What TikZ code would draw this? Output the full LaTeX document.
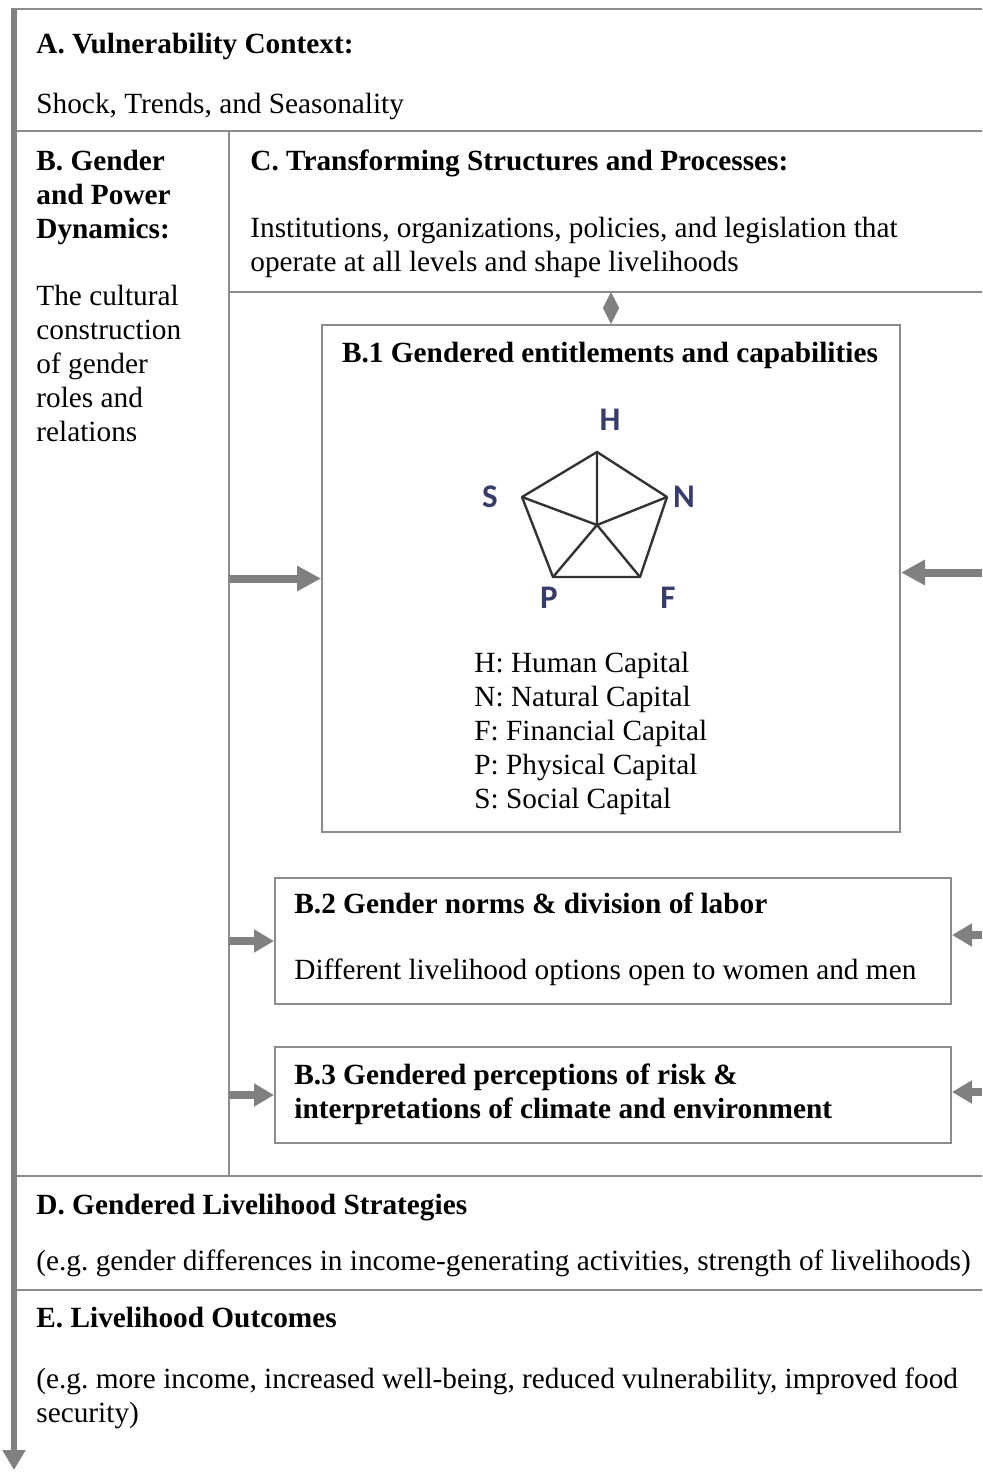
\documentclass[tikz,border=0pt]{standalone}
\usepackage{fontspec}
\setmainfont{Liberation Serif}
\newfontfamily\capfont{Carlito}
\usetikzlibrary{arrows.meta, positioning, calc}
\definecolor{linegray}{HTML}{8C8C8C}
\definecolor{arrgray}{HTML}{808080}
\definecolor{edgedark}{HTML}{333333}
\definecolor{capblue}{HTML}{383C6A}
\frenchspacing
\tikzset{
  txt/.style={inner sep=0pt, anchor=base west, align=left, font=\fontsize{14.65}{17}\selectfont},
  ttl/.style={txt, font=\fontsize{14.65}{17}\selectfont\bfseries},
  rule/.style={draw=linegray, line width=1pt},
  capbox/.style={rectangle, draw=linegray, line width=1pt, inner sep=0pt},
  bigarr/.style={-{Triangle[length=12pt, width=12pt]}, draw=arrgray, line width=4pt},
  smarr/.style={-{Triangle[length=10pt, width=11pt]}, draw=arrgray, line width=4pt},
  dblarr/.style={{Triangle[length=8pt, width=8pt]}-{Triangle[length=8pt, width=8pt]}, draw=arrgray, line width=0.5pt},
  flowarr/.style={-{Triangle[length=10pt, width=11pt]}, draw=arrgray, line width=3pt},
  pent/.style={draw=edgedark, line width=1.2pt},
  caplbl/.style={font=\capfont\fontsize{16.5}{18}\selectfont\bfseries, text=capblue, inner sep=0pt},
}

\begin{document}
\begin{tikzpicture}[x=0.5pt, y=-0.5pt]
  \useasboundingbox (0,0) rectangle (982,1472);

  % frame and panel rules
  \coordinate (topl) at (11,9);
  \coordinate (topr) at (982,9);
  \coordinate (flowtop) at (14,9);
  \coordinate (flowend) at (14,1470);
  \coordinate (ab) at (14,131);
  \coordinate (abr) at (982,131);
  \coordinate (bcl) at (229,131);
  \coordinate (bcb) at (229,1176);
  \coordinate (cl) at (229,292);
  \coordinate (cr) at (982,292);
  \coordinate (dl) at (14,1176);
  \coordinate (dr) at (982,1176);
  \coordinate (el) at (14,1290);
  \coordinate (er) at (982,1290);
  \draw[rule] (topl) -- (topr);
  \draw[rule] (ab) -- (abr);
  \draw[rule] (bcl) -- (bcb);
  \draw[rule] (cl) -- (cr);
  \draw[rule] (dl) -- (dr);
  \draw[rule] (el) -- (er);
  \draw[flowarr] (flowtop) -- (flowend);

  % panel texts (multi-line nodes sit on their last baseline)
  \node[ttl] (atitle) at (36,53) {A. Vulnerability Context:};
  \node[txt] (atext) at (36,113) {Shock, Trends, and Seasonality};
  \node[ttl] (btitle) at (36,238) {B. Gender\\and Power\\Dynamics:};
  \node[txt] (btext) at (36,441) {The cultural\\construction\\of gender\\roles and\\relations};
  \node[ttl] (ctitle) at (250,170) {C. Transforming Structures and Processes:};
  \node[txt] (ctext) at (250,271) {Institutions, organizations, policies, and legislation that\\operate at all levels and shape livelihoods};
  \node[ttl] (dtitle) at (36,1214) {D. Gendered Livelihood Strategies};
  \node[txt] (dtext) at (36,1270) {(e.g. gender differences in income-generating activities, strength of livelihoods)};
  \node[ttl] (etitle) at (36,1327) {E. Livelihood Outcomes};
  \node[txt] (etext) at (36,1422) {(e.g. more income, increased well-being, reduced vulnerability, improved food\\security)};

  % B.1 box
  \node[capbox, anchor=north west, minimum width=289pt, minimum height=253.5pt] (b1) at (321,324) {};
  \node[ttl, anchor=base] (b1title) at (610,362) {B.1 Gendered entitlements and capabilities};
  \node[txt] (b1legend) at (474,808) {H: Human Capital\\N: Natural Capital\\F: Financial Capital\\P: Physical Capital\\S: Social Capital};

  % capital pentagon
  \coordinate (ph) at (597,452);
  \coordinate (pn) at (667,497);
  \coordinate (pf) at (640,577);
  \coordinate (pp) at (553,577);
  \coordinate (ps) at (522,497);
  \coordinate (pc) at (597,525);
  \draw[pent, line join=round] (ph) -- (pn) -- (pf) -- (pp) -- (ps) -- cycle;
  \draw[pent] (ph) -- (pc) (pn) -- (pc) (pf) -- (pc) (pp) -- (pc) (ps) -- (pc);
  \node[caplbl] (lh) at (610,420) {H};
  \node[caplbl] (ln) at (684,497) {N};
  \node[caplbl] (lf) at (668,598) {F};
  \node[caplbl] (lp) at (549,598) {P};
  \node[caplbl] (ls) at (490,497) {S};

  % B.2 and B.3 boxes
  \node[capbox, anchor=north west, minimum width=338pt, minimum height=63pt] (b2) at (274,877) {};
  \node[ttl] (b2title) at (294,913) {B.2 Gender norms \& division of labor};
  \node[txt] (b2text) at (294,979) {Different livelihood options open to women and men};
  \node[capbox, anchor=north west, minimum width=338pt, minimum height=48pt] (b3) at (274,1046) {};
  \node[ttl] (b3title) at (294,1118) {B.3 Gendered perceptions of risk \&\\interpretations of climate and environment};

  % influence arrows
  \coordinate (cedge) at (611,292);
  \coordinate (redge) at (982,0);
  \draw[dblarr] (cedge) -- (b1.north -| cedge);
  \draw[bigarr] (b1.west -| bcl) -- (b1.west);
  \draw[bigarr] ([yshift=3pt]b1.east -| redge) -- ([yshift=3pt]b1.east);
  \draw[smarr] (b2.west -| bcl) -- (b2.west);
  \draw[smarr] ([yshift=3pt]b2.east -| redge) -- ([yshift=3pt]b2.east);
  \draw[smarr] (b3.west -| bcl) -- (b3.west);
  \draw[smarr] ([yshift=1.5pt]b3.east -| redge) -- ([yshift=1.5pt]b3.east);
\end{tikzpicture}
\end{document}
